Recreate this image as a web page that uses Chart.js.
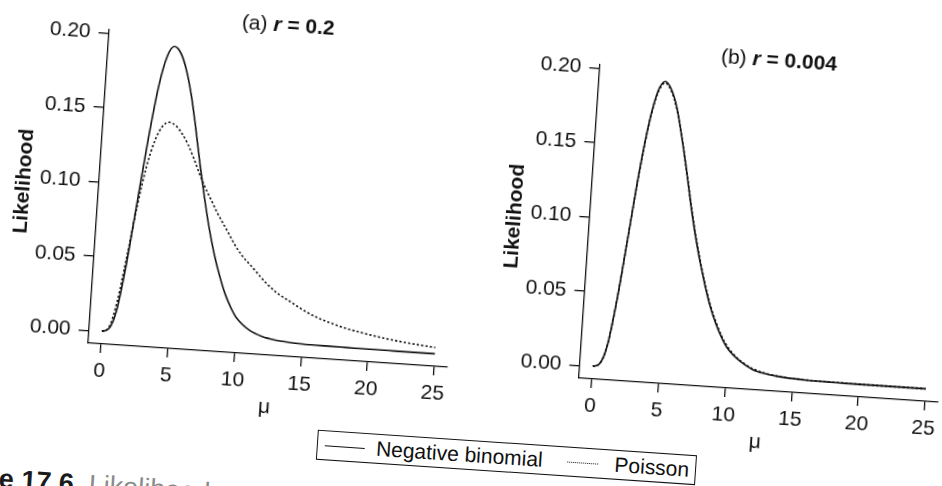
<!DOCTYPE html>
<html>
<head>
<meta charset="utf-8">
<script src="https://cdn.jsdelivr.net/npm/chart.js@4.4.1/dist/chart.umd.min.js"></script>
<style>
html,body{margin:0;padding:0;background:#fff;overflow:hidden;width:942px;height:486px}
#wrap{position:absolute;left:0;top:0;width:942px;height:486px;transform:rotate(3.85deg);transform-origin:101.9px 331.2px}
canvas{position:absolute}
#c1{left:0;top:0}
#c2{left:492.1px;top:1.7px}
#legend{position:absolute;left:324.4px;top:414.6px;width:379.3px;height:30.7px;box-sizing:border-box;border:1.3px solid #111;font:21px "Liberation Sans",Arial,sans-serif;color:#111}
.item{position:absolute;top:0;line-height:28px;white-space:nowrap}
.sw{position:absolute;top:14px;height:0}
#caption{position:absolute;left:-58.5px;top:470px;line-height:27px;font:bold 27px "Liberation Sans",Arial,sans-serif;white-space:nowrap;color:#1a1a1a}
#caption span{font-weight:normal;color:#8a8a8a}
</style>
</head>
<body>
<div id="wrap">
  <canvas id="c1" width="460" height="410" style="width:460px;height:410px"></canvas>
  <canvas id="c2" width="460" height="410" style="width:460px;height:410px"></canvas>
  <div id="legend">
    <span class="sw" style="left:7px;width:40px;border-top:1.3px solid #111"></span>
    <span class="item" style="left:58px">Negative binomial</span>
    <span class="sw" style="left:250px;width:31px;border-top:1.3px dotted #111"></span>
    <span class="item" style="left:297px">Poisson</span>
  </div>
  <div id="caption">Figure 17.6&nbsp;&nbsp;<span>Likelihood</span></div>
</div>
<script>
// mu values (x)
const mu = [0,0.5,1,1.5,2,2.5,3,3.5,4,4.5,5,5.5,6,6.5,7,7.5,8,8.5,9,9.5,10,11,12,13,14,15,16,17,18,19,20,21,22,23,24,25];

// Panel (a) r = 0.2
const nbA   = [0,0.002,0.015,0.047,0.089,0.131,0.166,0.187,0.194,0.190,0.179,0.162,0.140,0.116,0.094,0.074,0.057,0.043,0.031,0.022,0.015,0.0075,0.0037,0.0019,0.0011,0.0006,0.0004,0.0003,0.0002,0.0001,0.0001,0.0001,0,0,0,0];
const poisA = [0,0.003,0.021,0.052,0.085,0.112,0.130,0.140,0.143,0.141,0.136,0.129,0.120,0.110,0.101,0.093,0.085,0.078,0.071,0.064,0.058,0.049,0.040,0.033,0.028,0.023,0.019,0.016,0.0135,0.0115,0.0098,0.0083,0.0070,0.0059,0.0050,0.0042];

// Panel (b) r = 0.004
const nbB   = [0,0.002,0.015,0.047,0.089,0.132,0.166,0.187,0.194,0.189,0.177,0.158,0.137,0.114,0.093,0.075,0.059,0.045,0.034,0.025,0.018,0.010,0.005,0.0028,0.0015,0.0008,0.0004,0.0002,0.0001,0,0,0,0,0,0,0];
const poisB = [0,0.002,0.0152,0.047,0.089,0.131,0.165,0.186,0.193,0.188,0.176,0.158,0.137,0.115,0.094,0.076,0.060,0.046,0.035,0.026,0.019,0.0105,0.0056,0.003,0.0017,0.0009,0.0005,0.0003,0.0002,0.0001,0,0,0,0,0,0];

const xTicks = [0,5,10,15,20,25];
const xTickLabels = ['0','5','10','15','20','25'];
const yTicks = [0,0.05,0.10,0.15,0.20];
const yTickLabels = ['0.00','0.05','0.10','0.15','0.20'];
const seriesNames = ['Negative binomial','Poisson'];
const panelTags = ['(a)','(b)'];
const rValues = ['0.2','0.004'];

const FONT = '"Liberation Sans", Arial, sans-serif';
const INK = '#111';

const titlePlugin = {
  id: 'ptitle',
  afterDraw(chart, args, opts) {
    const ctx = chart.ctx, ca = chart.chartArea;
    const parts = [
      {t: opts.tag + ' ', f: '21px ' + FONT},
      {t: 'r', f: 'italic bold 21px ' + FONT},
      {t: ' = ' + opts.value, f: 'bold 21px ' + FONT}
    ];
    ctx.save();
    let w = 0;
    parts.forEach(p => { ctx.font = p.f; p.w = ctx.measureText(p.t).width; w += p.w; });
    let x = (ca.left + ca.right) / 2 - 1.5 - w / 2;
    const y = ca.top - 15.6;
    ctx.textBaseline = 'middle';
    ctx.textAlign = 'left';
    ctx.fillStyle = INK;
    parts.forEach(p => { ctx.font = p.f; ctx.fillText(p.t, x, y); x += p.w; });
    ctx.restore();
  }
};

function makeChart(id, nb, pois, tag, value) {
  const toPts = arr => mu.map((m, i) => ({x: m, y: arr[i]}));
  return new Chart(document.getElementById(id), {
    type: 'line',
    data: {
      datasets: [
        {label: seriesNames[0], data: toPts(nb), borderColor: INK, borderWidth: 1.6,
         pointRadius: 0, cubicInterpolationMode: 'monotone', fill: false},
        {label: seriesNames[1], data: toPts(pois), borderColor: INK, borderWidth: 1.6,
         borderDash: [2.2, 2.2], pointRadius: 0, cubicInterpolationMode: 'monotone', fill: false}
      ]
    },
    options: {
      responsive: false,
      animation: false,
      devicePixelRatio: 1,
      layout: {padding: {top: 29.5, left: 0, right: 11, bottom: 1}},
      plugins: {
        legend: {display: false},
        tooltip: {enabled: false},
        ptitle: {tag: tag, value: value}
      },
      scales: {
        x: {
          type: 'linear', min: -1, max: 26,
          afterBuildTicks: s => { s.ticks = xTicks.map(v => ({value: v})); },
          afterFit: s => { s.height = 65; },
          grid: {display: true, drawOnChartArea: false, drawTicks: true, tickLength: 9, color: INK, lineWidth: 1.3},
          border: {display: true, color: INK, width: 1.3},
          ticks: {color: INK, font: {family: FONT, size: 21}, padding: 6, maxRotation: 0, autoSkip: false,
                  callback: v => xTickLabels[xTicks.indexOf(v)]},
          title: {display: true, text: 'μ', color: INK, font: {family: FONT, size: 21}, padding: {top: 0, bottom: 0}}
        },
        y: {
          type: 'linear', min: -0.0085, max: 0.2026,
          afterBuildTicks: s => { s.ticks = yTicks.map(v => ({value: v})); },
          afterFit: s => { s.width = 88.55; },
          grid: {display: true, drawOnChartArea: false, drawTicks: true, tickLength: 10, color: INK, lineWidth: 1.3},
          border: {display: true, color: INK, width: 1.3},
          ticks: {color: INK, font: {family: FONT, size: 21}, padding: 8, autoSkip: false,
                  callback: v => yTickLabels[yTicks.indexOf(v)]},
          title: {display: true, text: 'Likelihood', color: INK, font: {family: FONT, size: 21, weight: 'bold'}, padding: {top: 2, bottom: 0}}
        }
      }
    },
    plugins: [titlePlugin]
  });
}

makeChart('c1', nbA, poisA, panelTags[0], rValues[0]);
makeChart('c2', nbB, poisB, panelTags[1], rValues[1]);
</script>
</body>
</html>
